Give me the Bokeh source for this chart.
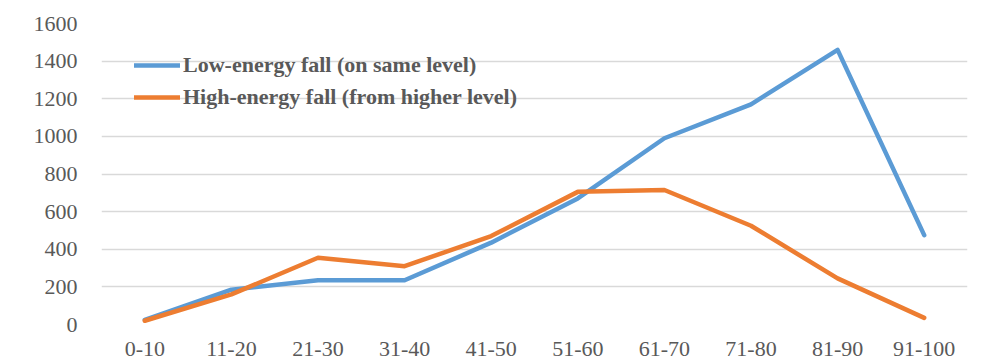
from bokeh.plotting import figure
from bokeh.models import Legend, LegendItem, FactorRange, Range1d, FixedTicker
from bokeh.embed import file_html
from bokeh.resources import INLINE

# Age groups and counts of fall-related cases
age_groups = ["0-10", "11-20", "21-30", "31-40", "41-50",
              "51-60", "61-70", "71-80", "81-90", "91-100"]
low_energy = [25, 185, 235, 235, 435, 670, 990, 1170, 1460, 475]
high_energy = [20, 160, 355, 310, 470, 705, 715, 525, 245, 35]
y_ticks = [0, 200, 400, 600, 800, 1000, 1200, 1400, 1600]

FONT = "Liberation Serif"
TEXT_COLOR = "#595959"
BLUE = "#5B9BD5"
ORANGE = "#ED7D31"

p = figure(
    width=1001, height=362,
    x_range=FactorRange(*age_groups, range_padding=0),
    y_range=Range1d(0, 1600),
    output_backend="svg", toolbar_location=None,
    min_border_left=101, min_border_right=34,
    min_border_top=23, min_border_bottom=38,
)
p.outline_line_color = None
p.background_fill_color = "white"
p.border_fill_color = "white"

p.xgrid.grid_line_color = None
p.ygrid.grid_line_color = "#D9D9D9"
p.ygrid.grid_line_width = 1.3

p.yaxis.ticker = FixedTicker(ticks=y_ticks)
for ax in (p.xaxis[0], p.yaxis[0]):
    ax.axis_line_color = None
    ax.major_tick_line_color = None
    ax.minor_tick_line_color = None
    ax.major_label_text_font = FONT
    ax.major_label_text_font_size = "22px"
    ax.major_label_text_color = TEXT_COLOR
p.yaxis.major_label_standoff = 18
p.xaxis.major_label_standoff = 11

r_low = p.line(age_groups, low_energy, line_color=BLUE, line_width=4.5,
               line_join="round", line_cap="round")
r_high = p.line(age_groups, high_energy, line_color=ORANGE, line_width=4.5,
                line_join="round", line_cap="round")

legend = Legend(
    items=[
        LegendItem(label="Low-energy fall (on same level)", renderers=[r_low]),
        LegendItem(label="High-energy fall (from higher level)", renderers=[r_high]),
    ],
    location=(33, 214),
    orientation="vertical",
    label_text_font=FONT,
    label_text_font_size="22px",
    label_text_font_style="bold",
    label_text_color=TEXT_COLOR,
    glyph_width=46, glyph_height=20,
    label_standoff=3, spacing=6,
    padding=0, margin=0,
    background_fill_alpha=0, border_line_color=None,
)
p.add_layout(legend)

open("out.html", "w").write(file_html(p, INLINE))
